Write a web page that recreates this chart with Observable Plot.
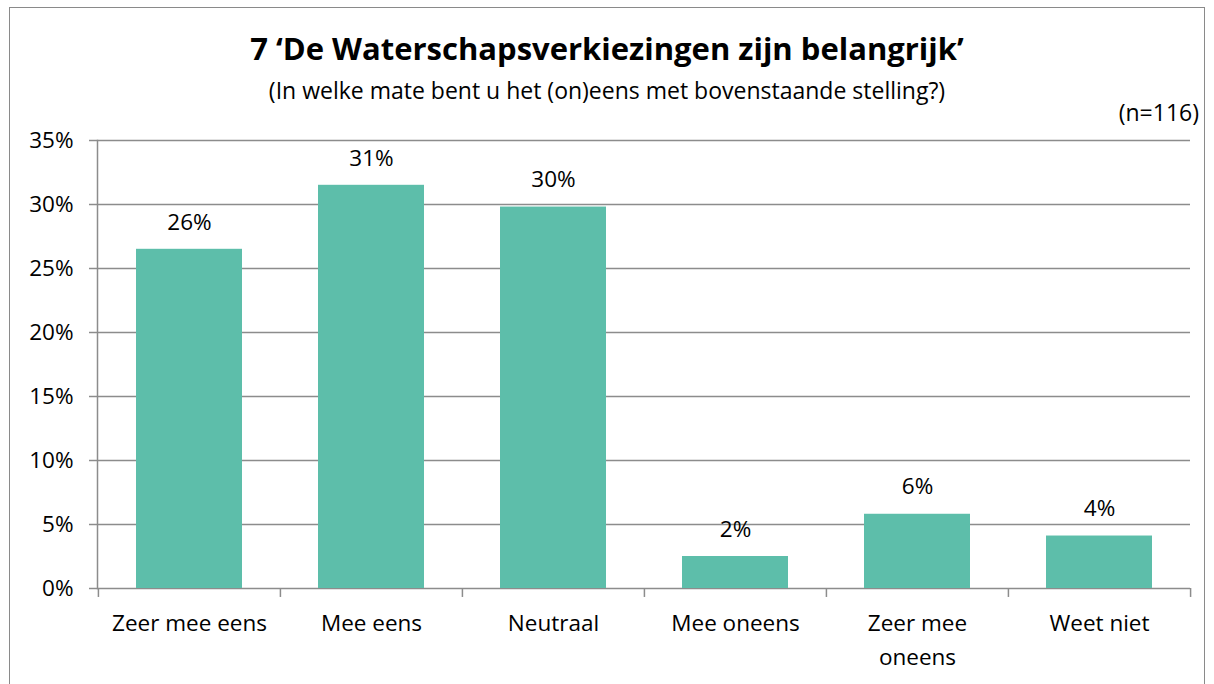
<!DOCTYPE html>
<html>
<head>
<meta charset="utf-8">
<script src="https://cdn.jsdelivr.net/npm/d3@7"></script>
<script src="https://cdn.jsdelivr.net/npm/@observablehq/plot@0.6"></script>
<style>
  html, body { margin: 0; padding: 0; background: #fff; }
  #wrap { position: relative; width: 1214px; height: 684px; overflow: hidden; font-family: "Open Sans", Lato, sans-serif; color: #000; background: #fff; }
  #chart { position: absolute; left: 0; top: 120px; z-index: 1; }
  #frame { position: absolute; left: 9px; top: 7px; width: 1196px; height: 720px; border: 1.5px solid #8a8a8a; box-sizing: border-box; z-index: 2; }
  #title { position: absolute; left: 0; width: 1214px; top: 30px; text-align: center; font-size: 31px; font-weight: bold; line-height: 1.2; z-index: 3; }
  #subtitle { position: absolute; left: 0; width: 1214px; top: 77px; text-align: center; font-size: 23px; line-height: 1.2; z-index: 3; }
  #n { position: absolute; right: 15px; top: 99px; font-size: 23px; line-height: 1.2; z-index: 3; }
</style>
</head>
<body>
<div id="wrap">
  <div id="chart"></div>
  <div id="frame"></div>
  <div id="title"></div>
  <div id="subtitle"></div>
  <div id="n"></div>
</div>
<script>
const titleText = "7 \u2018De Waterschapsverkiezingen zijn belangrijk\u2019";
const subtitleText = "(In welke mate bent u het (on)eens met bovenstaande stelling?)";
const nText = "(n=116)";
const categories = ["Zeer mee eens", "Mee eens", "Neutraal", "Mee oneens", "Zeer mee oneens", "Weet niet"];
const categoryLabels = ["Zeer mee eens", "Mee eens", "Neutraal", "Mee oneens", "Zeer mee\noneens", "Weet niet"];
const values = [26.5, 31.5, 29.8, 2.5, 5.8, 4.1];
const valueLabels = ["26%", "31%", "30%", "2%", "6%", "4%"];
const yTicks = [0, 5, 10, 15, 20, 25, 30, 35];

document.getElementById("title").textContent = titleText;
document.getElementById("subtitle").textContent = subtitleText;
document.getElementById("n").textContent = nText;

const data = categories.map((c, i) => ({cat: c, value: values[i], label: valueLabels[i]}));
const labelOf = new Map(categories.map((c, i) => [c, categoryLabels[i]]));

const W = 1214, H = 564, mL = 97, mR = 24, mT = 20, mB = 96;
const step = (W - mL - mR) / categories.length;
const gridColor = "#8c8c8c";
const font = "'Open Sans', Lato, sans-serif";
const fs = 22.5;

const chart = Plot.plot({
  width: W, height: H,
  marginLeft: mL, marginRight: mR, marginTop: mT, marginBottom: mB,
  style: {fontFamily: font, fontSize: fs + "px", color: "#000", background: "transparent", overflow: "visible"},
  x: {type: "band", domain: categories, paddingInner: 0.42, paddingOuter: 0.21, label: null},
  y: {domain: [0, 35], label: null},
  marks: [
    Plot.ruleY(yTicks, {stroke: gridColor, strokeWidth: 1.5}),
    Plot.barY(data, {x: "cat", y: "value", fill: "#5dbeaa"}),
    Plot.ruleX(categories, {x: d => d, dx: -step / 2, y1: 0, y2: -0.7, stroke: gridColor, strokeWidth: 1.5}),
    Plot.ruleX(categories.slice(-1), {x: d => d, dx: step / 2, y1: 0, y2: -0.7, stroke: gridColor, strokeWidth: 1.5}),
    Plot.frame({anchor: "left", stroke: gridColor, strokeWidth: 1.5}),
    Plot.axisY({ticks: yTicks, tickFormat: d => d + "%", tickSize: 8, tickPadding: 16, stroke: gridColor, strokeWidth: 1.5, fontSize: fs, fill: "#000", label: null}),
    Plot.axisX({tickSize: 0, tickPadding: 19, tickFormat: d => labelOf.get(d), fontSize: fs, lineHeight: 1.5, fill: "#000", label: null}),
    Plot.text(data, {x: "cat", y: "value", text: "label", dy: -27, fontSize: fs, fill: "#000"})
  ]
});
document.getElementById("chart").appendChild(chart);
</script>
</body>
</html>
